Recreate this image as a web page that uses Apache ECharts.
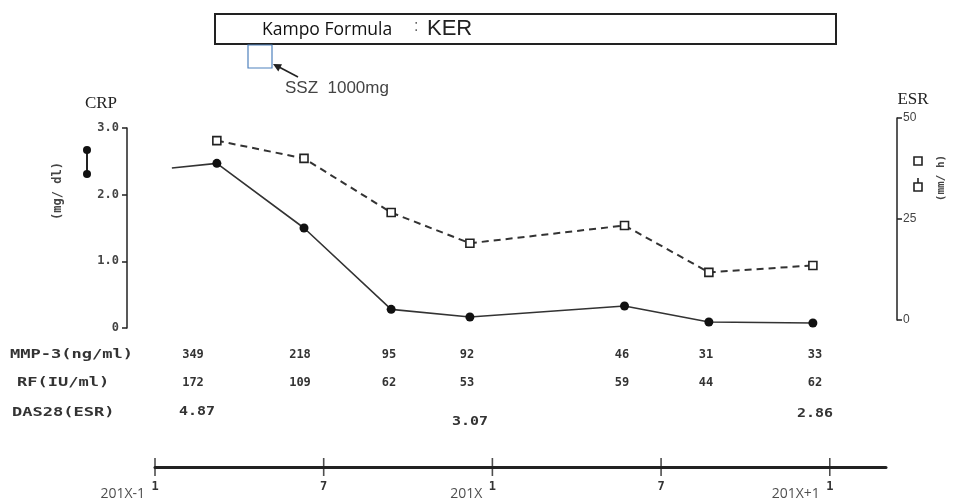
<!DOCTYPE html>
<html><head><meta charset="utf-8">
<script src="https://cdn.jsdelivr.net/npm/echarts@6/dist/echarts.min.js"></script>
<style>html,body{margin:0;padding:0;background:#fff}#c{width:954px;height:504px}</style>
</head><body><div id="c"></div>
<script>
// Visit times in months counted from January of 201X-1
const crpMonths = [0.6, 2.2, 5.3, 8.4, 11.2, 16.7, 19.7, 23.4];
const crpValues = [2.40, 2.47, 1.50, 0.28, 0.165, 0.33, 0.09, 0.075];
const esrMonths = [2.2, 5.3, 8.4, 11.2, 16.7, 19.7, 23.4];
const esrValues = [44.4, 40.0, 26.6, 19.0, 23.4, 11.8, 13.5];
const crpTicks = [0, 1, 2, 3];
const esrTicks = [0, 25, 50];
const timelineTicks = [0, 6, 12, 18, 24];
const yearLabels = ['201X-1', '201X', '201X+1'];
const yearMonths = [0, 12, 24];
const mmp3 = [349, 218, 95, 92, 46, 31, 33];
const rf = [172, 109, 62, 53, 59, 44, 62];
const das28 = ['4.87', '3.07', '2.86'];
const rowLabels = ['MMP-3(ng/ml)', 'RF(IU/ml)', 'DAS28(ESR)'];

const monoFont = '"DejaVu Sans Mono", "Liberation Mono", monospace';
const chart = echarts.init(document.getElementById('c'), null, {renderer: 'canvas'});

// table column centers (pixels) for text
const colX = [193, 300, 389, 467, 622, 706, 815];
const dasX = [197, 470, 815];
const dasY = [412, 422, 414];

const graphics = [];
// top box
graphics.push({type: 'rect', shape: {x: 215, y: 14, width: 621, height: 30},
  style: {fill: '#fff', stroke: '#222', lineWidth: 2}, z: 10});
graphics.push({type: 'text', x: 262, y: 30, z: 11,
  style: {text: 'Kampo Formula', font: '17.5px "Open Sans", sans-serif', fill: '#111', textVerticalAlign: 'middle'}});
graphics.push({type: 'text', x: 414, y: 27, z: 11,
  style: {text: ':', font: '16px "Liberation Sans", sans-serif', fill: '#666', textVerticalAlign: 'middle'}});
graphics.push({type: 'text', x: 427, y: 29, z: 11,
  style: {text: 'KER', font: '22px "Liberation Sans", sans-serif', fill: '#222', textVerticalAlign: 'middle'}});
// small blue square and arrow
graphics.push({type: 'rect', shape: {x: 248, y: 45, width: 24, height: 23},
  style: {fill: 'none', stroke: '#4f81bd', lineWidth: 1.2}, z: 10});
graphics.push({type: 'line', shape: {x1: 298, y1: 77, x2: 279, y2: 67},
  style: {stroke: '#222', lineWidth: 1.6}, z: 11});
graphics.push({type: 'polygon', shape: {points: [[273, 64], [282, 64.2], [278.3, 71.5]]},
  style: {fill: '#222'}, z: 11});
graphics.push({type: 'text', x: 285, y: 88, z: 11,
  style: {text: 'SSZ  1000mg', font: '17px "Liberation Sans", sans-serif', fill: '#444', textVerticalAlign: 'middle'}});
// axis titles
graphics.push({type: 'text', x: 101, y: 104, style: {text: 'CRP', font: '17px "Liberation Serif", serif', fill: '#222', textAlign: 'center', textVerticalAlign: 'middle'}});
graphics.push({type: 'text', x: 913, y: 100, style: {text: 'ESR', font: '17px "Liberation Serif", serif', fill: '#222', textAlign: 'center', textVerticalAlign: 'middle'}});
graphics.push({type: 'text', x: 58, y: 191, rotation: Math.PI / 2,
  style: {text: '(mg/ dl)', font: 'bold 12px ' + monoFont, fill: '#444', textAlign: 'center', textVerticalAlign: 'middle'}});
graphics.push({type: 'text', x: 941, y: 178, rotation: Math.PI / 2,
  style: {text: '(mm/ h)', font: 'bold 11px ' + monoFont, fill: '#444', textAlign: 'center', textVerticalAlign: 'middle'}});
// legend icons
graphics.push({type: 'line', shape: {x1: 87, y1: 150, x2: 87, y2: 174}, style: {stroke: '#222', lineWidth: 2}});
graphics.push({type: 'circle', shape: {cx: 87, cy: 150, r: 4}, style: {fill: '#111'}});
graphics.push({type: 'circle', shape: {cx: 87, cy: 174, r: 4}, style: {fill: '#111'}});
graphics.push({type: 'rect', shape: {x: 914, y: 157, width: 8, height: 8}, style: {fill: '#fff', stroke: '#222', lineWidth: 1.6}});
graphics.push({type: 'line', shape: {x1: 918, y1: 178, x2: 918, y2: 183}, style: {stroke: '#222', lineWidth: 1.6}});
graphics.push({type: 'rect', shape: {x: 914, y: 183, width: 8, height: 8}, style: {fill: '#fff', stroke: '#222', lineWidth: 1.6}});
// table
const rowY = [355, 383, 413];
const rowLabelX = [10, 17, 12];
rowLabels.forEach((t, i) => graphics.push({type: 'text', x: rowLabelX[i], y: rowY[i], scaleX: 1.42,
  style: {text: t, font: 'bold 12px ' + monoFont, fill: '#333', textVerticalAlign: 'middle'}}));
mmp3.forEach((v, i) => graphics.push({type: 'text', x: colX[i], y: rowY[0],
  style: {text: String(v), font: 'bold 12px ' + monoFont, fill: '#333', textAlign: 'center', textVerticalAlign: 'middle'}}));
rf.forEach((v, i) => graphics.push({type: 'text', x: colX[i], y: rowY[1],
  style: {text: String(v), font: 'bold 12px ' + monoFont, fill: '#333', textAlign: 'center', textVerticalAlign: 'middle'}}));
das28.forEach((v, i) => graphics.push({type: 'text', x: dasX[i], y: dasY[i], scaleX: 1.15,
  style: {text: v, font: 'bold 13px ' + monoFont, fill: '#333', textAlign: 'center', textVerticalAlign: 'middle'}}));

const xCommon = {type: 'value', min: 0, max: 26, show: false};

chart.setOption({
  animation: false,
  backgroundColor: '#fff',
  grid: [
    {left: 155, right: 68, top: 128, bottom: 176},
    {left: 155, right: 68, top: 118, bottom: 184},
    {left: 155, right: 68, top: 458, height: 18}
  ],
  xAxis: [
    Object.assign({gridIndex: 0}, xCommon),
    Object.assign({gridIndex: 1}, xCommon),
    {gridIndex: 2, type: 'value', min: 0, max: 26, interval: 6,
      axisLine: {onZero: true, lineStyle: {color: '#222', width: 3}},
      axisTick: {show: false}, splitLine: {show: false},
      axisLabel: {margin: 5, color: '#333', fontSize: 12, fontWeight: 'bold', fontFamily: monoFont,
        formatter: v => (v % 6 === 0 && v <= 24) ? String((v % 12) + 1) : ''}}
  ],
  yAxis: [
    {gridIndex: 0, type: 'value', min: 0, max: 3, interval: 1, position: 'left', offset: 28,
      axisLine: {show: true, onZero: false, lineStyle: {color: '#222', width: 1.5}},
      axisTick: {show: true, length: 5, lineStyle: {color: '#222', width: 1.5}},
      splitLine: {show: false},
      axisLabel: {margin: 8, color: '#444', fontSize: 12, fontWeight: 'bold', fontFamily: monoFont,
        formatter: v => crpTicks.includes(v) ? (v === 0 ? '0' : v.toFixed(1)) : ''}},
    {gridIndex: 1, type: 'value', min: 0, max: 50, interval: 25, position: 'right', offset: 11,
      axisLine: {show: true, onZero: false, lineStyle: {color: '#222', width: 1.5}},
      axisTick: {show: true, length: 5, lineStyle: {color: '#222', width: 1.5}},
      splitLine: {show: false},
      axisLabel: {margin: 6, color: '#444', fontSize: 12, fontFamily: '"Liberation Sans", sans-serif',
        formatter: v => esrTicks.includes(v) ? String(v) : ''}},
    {gridIndex: 2, type: 'value', min: -1, max: 1, show: false}
  ],
  graphic: graphics,
  series: [
    {type: 'line', name: 'CRP', xAxisIndex: 0, yAxisIndex: 0,
      data: crpMonths.map((m, i) => i === 0 ? {value: [m, crpValues[i]], symbol: 'none'} : [m, crpValues[i]]),
      symbol: 'circle', symbolSize: 9, showAllSymbol: true,
      lineStyle: {color: '#333', width: 1.6}, itemStyle: {color: '#111'}, z: 3},
    {type: 'line', name: 'ESR', xAxisIndex: 1, yAxisIndex: 1,
      data: esrMonths.map((m, i) => [m, esrValues[i]]),
      symbol: 'rect', symbolSize: 8, showAllSymbol: true,
      lineStyle: {color: '#333', width: 2, type: [7, 5]},
      itemStyle: {color: '#fff', borderColor: '#222', borderWidth: 1.6}, z: 4},
    {type: 'scatter', name: 'ticks', xAxisIndex: 2, yAxisIndex: 2,
      data: timelineTicks.map(m => [m, 0]), symbol: 'rect', symbolSize: [1.6, 18],
      itemStyle: {color: '#222'}, silent: true},
    {type: 'scatter', name: 'years', xAxisIndex: 2, yAxisIndex: 2,
      data: yearMonths.map((m, i) => ({value: [m, 0], label: {formatter: yearLabels[i]}})),
      symbolSize: 0, silent: true,
      label: {show: true, position: 'inside', align: 'right', offset: [-10, 27],
        color: '#222', fontSize: 14, fontFamily: '"Open Sans", "Liberation Sans", sans-serif'}}
  ]
});
</script>
</body></html>
